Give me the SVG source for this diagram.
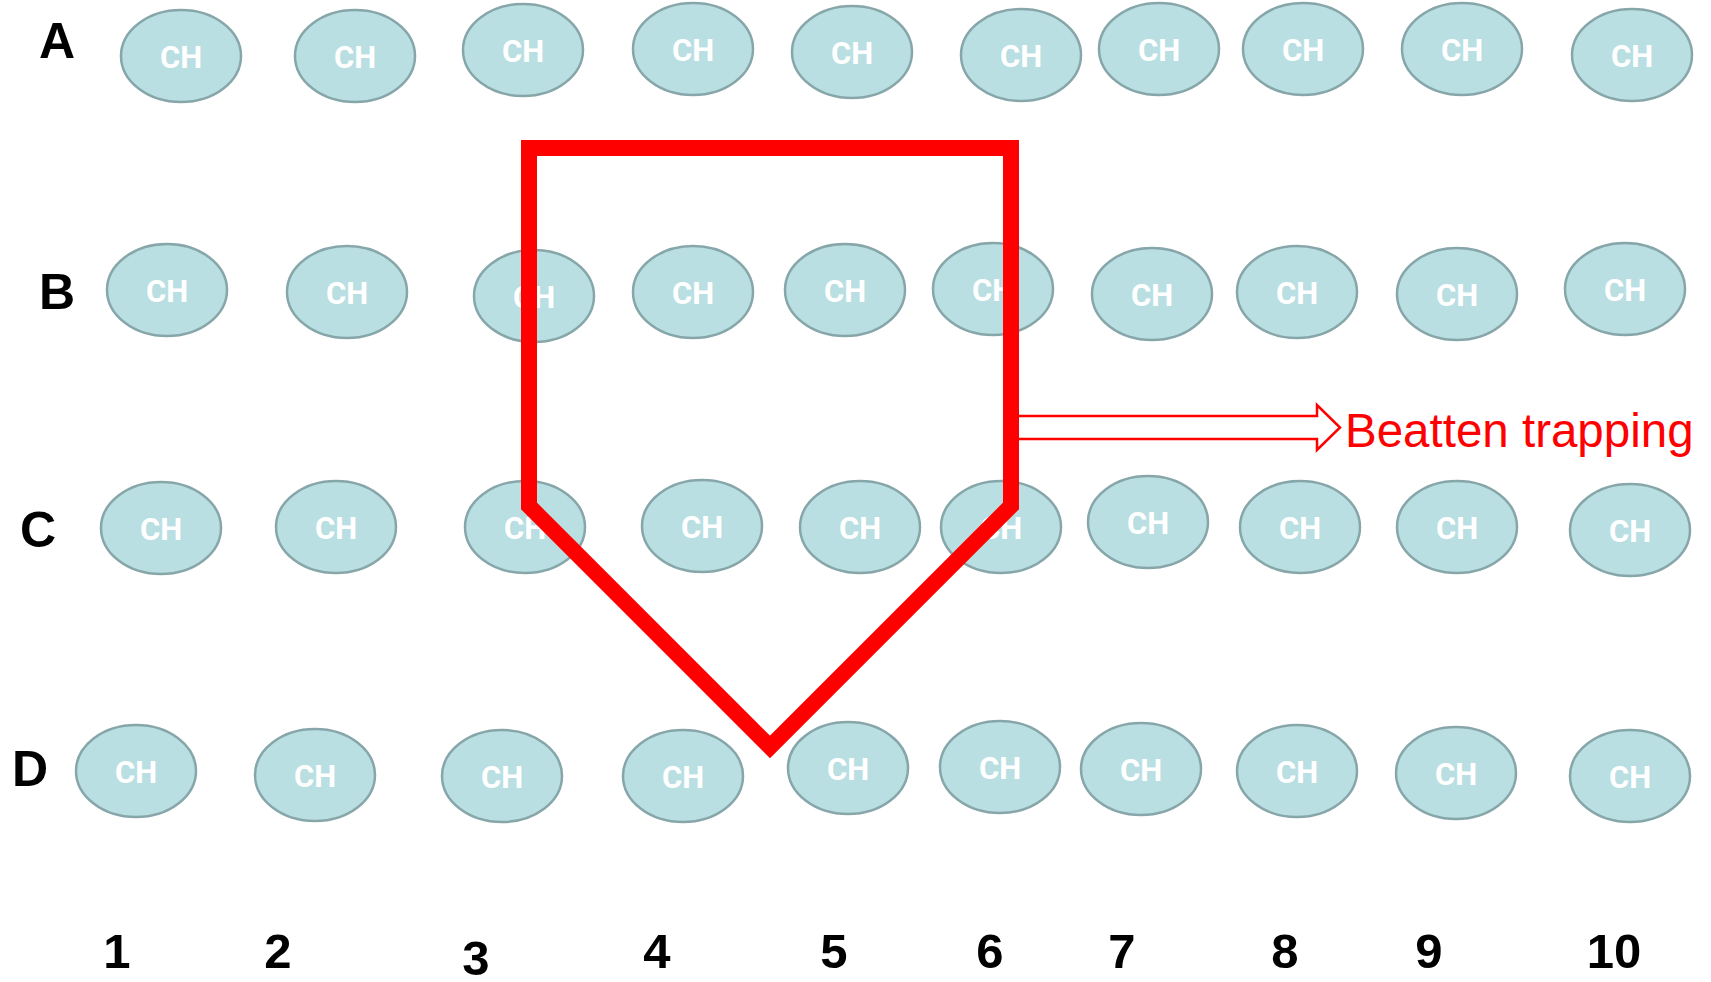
<svg xmlns="http://www.w3.org/2000/svg" width="1711" height="982" viewBox="0 0 1711 982">
<style>
.n ellipse{fill:#B9DFE2;stroke:#87A6A9;stroke-width:2.5}
.n text{font-family:Roboto,"Liberation Sans",Arial,sans-serif;font-weight:bold;font-size:31px;fill:#fff;text-anchor:middle}
.lbl{font-family:"Liberation Sans",Arial,sans-serif;font-weight:bold;font-size:50px;fill:#000}
.num{font-family:"Liberation Sans",Arial,sans-serif;font-weight:bold;font-size:49px;fill:#000;text-anchor:middle}
</style>
<rect width="1711" height="982" fill="#fff"/>
<g id="labels">
<text class="lbl" x="39" y="58">A</text>
<text class="lbl" x="39" y="309">B</text>
<text class="lbl" x="20" y="547">C</text>
<text class="lbl" x="12" y="786">D</text>
<text class="num" x="117" y="968">1</text>
<text class="num" x="278" y="968">2</text>
<text class="num" x="476" y="975">3</text>
<text class="num" x="657" y="968">4</text>
<text class="num" x="834" y="968">5</text>
<text class="num" x="990" y="968">6</text>
<text class="num" x="1122" y="968">7</text>
<text class="num" x="1285" y="968">8</text>
<text class="num" x="1429" y="968">9</text>
<text class="num" x="1614" y="968">10</text>
</g>
<g id="A1" class="n"><ellipse cx="181" cy="56" rx="60" ry="46"/><text x="181" y="68">CH</text></g>
<g id="A2" class="n"><ellipse cx="355" cy="56" rx="60" ry="46"/><text x="355" y="68">CH</text></g>
<g id="A3" class="n"><ellipse cx="523" cy="50" rx="60" ry="46"/><text x="523" y="62">CH</text></g>
<g id="A4" class="n"><ellipse cx="693" cy="49" rx="60" ry="46"/><text x="693" y="61">CH</text></g>
<g id="A5" class="n"><ellipse cx="852" cy="52" rx="60" ry="46"/><text x="852" y="64">CH</text></g>
<g id="A6" class="n"><ellipse cx="1021" cy="55" rx="60" ry="46"/><text x="1021" y="67">CH</text></g>
<g id="A7" class="n"><ellipse cx="1159" cy="49" rx="60" ry="46"/><text x="1159" y="61">CH</text></g>
<g id="A8" class="n"><ellipse cx="1303" cy="49" rx="60" ry="46"/><text x="1303" y="61">CH</text></g>
<g id="A9" class="n"><ellipse cx="1462" cy="49" rx="60" ry="46"/><text x="1462" y="61">CH</text></g>
<g id="A10" class="n"><ellipse cx="1632" cy="55" rx="60" ry="46"/><text x="1632" y="67">CH</text></g>
<g id="B1" class="n"><ellipse cx="167" cy="290" rx="60" ry="46"/><text x="167" y="302">CH</text></g>
<g id="B2" class="n"><ellipse cx="347" cy="292" rx="60" ry="46"/><text x="347" y="304">CH</text></g>
<g id="B3" class="n"><ellipse cx="534" cy="296" rx="60" ry="46"/><text x="534" y="308">CH</text></g>
<g id="B4" class="n"><ellipse cx="693" cy="292" rx="60" ry="46"/><text x="693" y="304">CH</text></g>
<g id="B5" class="n"><ellipse cx="845" cy="290" rx="60" ry="46"/><text x="845" y="302">CH</text></g>
<g id="B6" class="n"><ellipse cx="993" cy="289" rx="60" ry="46"/><text x="993" y="301">CH</text></g>
<g id="B7" class="n"><ellipse cx="1152" cy="294" rx="60" ry="46"/><text x="1152" y="306">CH</text></g>
<g id="B8" class="n"><ellipse cx="1297" cy="292" rx="60" ry="46"/><text x="1297" y="304">CH</text></g>
<g id="B9" class="n"><ellipse cx="1457" cy="294" rx="60" ry="46"/><text x="1457" y="306">CH</text></g>
<g id="B10" class="n"><ellipse cx="1625" cy="289" rx="60" ry="46"/><text x="1625" y="301">CH</text></g>
<g id="C1" class="n"><ellipse cx="161" cy="528" rx="60" ry="46"/><text x="161" y="540">CH</text></g>
<g id="C2" class="n"><ellipse cx="336" cy="527" rx="60" ry="46"/><text x="336" y="539">CH</text></g>
<g id="C3" class="n"><ellipse cx="525" cy="527" rx="60" ry="46"/><text x="525" y="539">CH</text></g>
<g id="C4" class="n"><ellipse cx="702" cy="526" rx="60" ry="46"/><text x="702" y="538">CH</text></g>
<g id="C5" class="n"><ellipse cx="860" cy="527" rx="60" ry="46"/><text x="860" y="539">CH</text></g>
<g id="C6" class="n"><ellipse cx="1001" cy="527" rx="60" ry="46"/><text x="1001" y="539">CH</text></g>
<g id="C7" class="n"><ellipse cx="1148" cy="522" rx="60" ry="46"/><text x="1148" y="534">CH</text></g>
<g id="C8" class="n"><ellipse cx="1300" cy="527" rx="60" ry="46"/><text x="1300" y="539">CH</text></g>
<g id="C9" class="n"><ellipse cx="1457" cy="527" rx="60" ry="46"/><text x="1457" y="539">CH</text></g>
<g id="C10" class="n"><ellipse cx="1630" cy="530" rx="60" ry="46"/><text x="1630" y="542">CH</text></g>
<g id="D1" class="n"><ellipse cx="136" cy="771" rx="60" ry="46"/><text x="136" y="783">CH</text></g>
<g id="D2" class="n"><ellipse cx="315" cy="775" rx="60" ry="46"/><text x="315" y="787">CH</text></g>
<g id="D3" class="n"><ellipse cx="502" cy="776" rx="60" ry="46"/><text x="502" y="788">CH</text></g>
<g id="D4" class="n"><ellipse cx="683" cy="776" rx="60" ry="46"/><text x="683" y="788">CH</text></g>
<g id="D5" class="n"><ellipse cx="848" cy="768" rx="60" ry="46"/><text x="848" y="780">CH</text></g>
<g id="D6" class="n"><ellipse cx="1000" cy="767" rx="60" ry="46"/><text x="1000" y="779">CH</text></g>
<g id="D7" class="n"><ellipse cx="1141" cy="769" rx="60" ry="46"/><text x="1141" y="781">CH</text></g>
<g id="D8" class="n"><ellipse cx="1297" cy="771" rx="60" ry="46"/><text x="1297" y="783">CH</text></g>
<g id="D9" class="n"><ellipse cx="1456" cy="773" rx="60" ry="46"/><text x="1456" y="785">CH</text></g>
<g id="D10" class="n"><ellipse cx="1630" cy="776" rx="60" ry="46"/><text x="1630" y="788">CH</text></g>
<g id="connectors">
<path d="M1011,416 L1317,416 L1317,405 L1340,427.5 L1317,450 L1317,439 L1011,439 Z" fill="#fff" stroke="#FF0000" stroke-width="2.5"/>
<polygon points="529,148 1011,148 1011,506 770,747 529,506" fill="none" stroke="#FF0000" stroke-width="16" stroke-linejoin="miter" stroke-miterlimit="10"/>
</g>
<g id="trap-label">
<text x="1345" y="447" font-family="'Liberation Sans',Arial,sans-serif" font-size="47.5" fill="#FF0000">Beatten trapping</text>
</g>
</svg>
